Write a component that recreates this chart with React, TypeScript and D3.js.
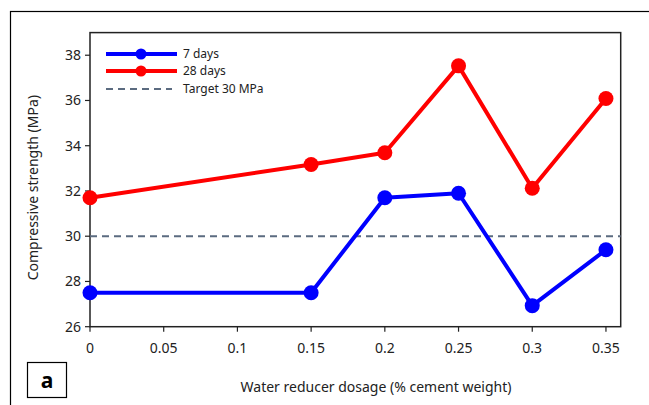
import * as d3 from "d3";

const dosage = [0, 0.15, 0.2, 0.25, 0.3, 0.35];
const days7 = [27.5, 27.5, 31.7, 31.9, 26.93, 29.4];
const days28 = [31.7, 33.17, 33.69, 37.53, 32.12, 36.09];
const target = 30;
const xTicks = [0, 0.05, 0.1, 0.15, 0.2, 0.25, 0.3, 0.35];
const yTicks = [26, 28, 30, 32, 34, 36, 38];

const W = 649;
const H = 405;
const font = "'Noto Sans', sans-serif";

export default function App() {
  const x = d3.scaleLinear().domain([0, 0.36]).range([90, 620.7]);
  const y = d3.scaleLinear().domain([26, 39]).range([326.7, 32.6]);

  const line = d3
    .line<number>()
    .x((_, i) => x(dosage[i]))
    .y((d) => y(d));

  const series = [
    { name: "7 days", values: days7, color: "#0000ff" },
    { name: "28 days", values: days28, color: "#ff0000" },
  ];

  return (
    <svg
      width={W}
      height={H}
      style={{ position: "absolute", left: 0, top: 0, background: "#fff" }}
      fontFamily={font}
    >
      {/* outer frame */}
      <rect x={10.5} y={11.5} width={W + 10} height={H + 10} fill="none" stroke="#000" strokeWidth={1.2} />

      {/* plot frame */}
      <rect
        x={x(0)}
        y={y(39)}
        width={x(0.36) - x(0)}
        height={y(26) - y(39)}
        fill="none"
        stroke="#222"
        strokeWidth={1.5}
      />

      {/* target line */}
      <line
        x1={x(0)}
        x2={x(0.36)}
        y1={y(target)}
        y2={y(target)}
        stroke="#5b6b80"
        strokeWidth={2}
        strokeDasharray="7,5"
      />

      {/* y ticks */}
      {yTicks.map((t) => (
        <g key={t}>
          <line x1={x(0) - 5} x2={x(0)} y1={y(t)} y2={y(t)} stroke="#222" strokeWidth={1.2} />
          <text x={x(0) - 9} y={y(t)} dy="0.35em" textAnchor="end" fontSize={14} fill="#222">
            {t}
          </text>
        </g>
      ))}

      {/* x ticks */}
      {xTicks.map((t) => (
        <g key={t}>
          <line x1={x(t)} x2={x(t)} y1={y(26)} y2={y(26) + 5} stroke="#222" strokeWidth={1.2} />
          <text x={x(t)} y={353} textAnchor="middle" fontSize={14} fill="#222">
            {t}
          </text>
        </g>
      ))}

      {/* series */}
      {series.map((s) => (
        <g key={s.name}>
          <path d={line(s.values) ?? ""} fill="none" stroke={s.color} strokeWidth={4} strokeLinejoin="round" />
          {s.values.map((v, i) => (
            <circle key={i} cx={x(dosage[i])} cy={y(v)} r={7.5} fill={s.color} />
          ))}
        </g>
      ))}

      {/* legend */}
      {series.map((s, i) => (
        <g key={s.name} transform={`translate(0,${54 + i * 17})`}>
          <line x1={106} x2={177} y1={0} y2={0} stroke={s.color} strokeWidth={4} />
          <circle cx={141} cy={0} r={5.5} fill={s.color} />
          <text x={183} y={0} dy="0.35em" fontSize={12} fill="#222">
            {s.name}
          </text>
        </g>
      ))}
      <g transform="translate(0,89)">
        <line x1={106} x2={172} y1={0} y2={0} stroke="#5b6b80" strokeWidth={2} strokeDasharray="7,5" />
        <text x={183} y={0} dy="0.35em" fontSize={12} fill="#222">
          Target 30 MPa
        </text>
      </g>

      {/* axis titles */}
      <text
        transform={`translate(38,${(y(26) + y(39)) / 2 + 8}) rotate(-90)`}
        textAnchor="middle"
        fontSize={14}
        fill="#222"
      >
        Compressive strength  (MPa)
      </text>
      <text x={376} y={392} textAnchor="middle" fontSize={14} fill="#222">
        Water reducer dosage (% cement weight)
      </text>

      {/* panel label */}
      <rect x={27.5} y={362.5} width={39} height={35} fill="#fff" stroke="#000" strokeWidth={1.2} />
      <text x={47} y={388} textAnchor="middle" fontSize={21} fontWeight="bold" fill="#000">
        a
      </text>
    </svg>
  );
}
